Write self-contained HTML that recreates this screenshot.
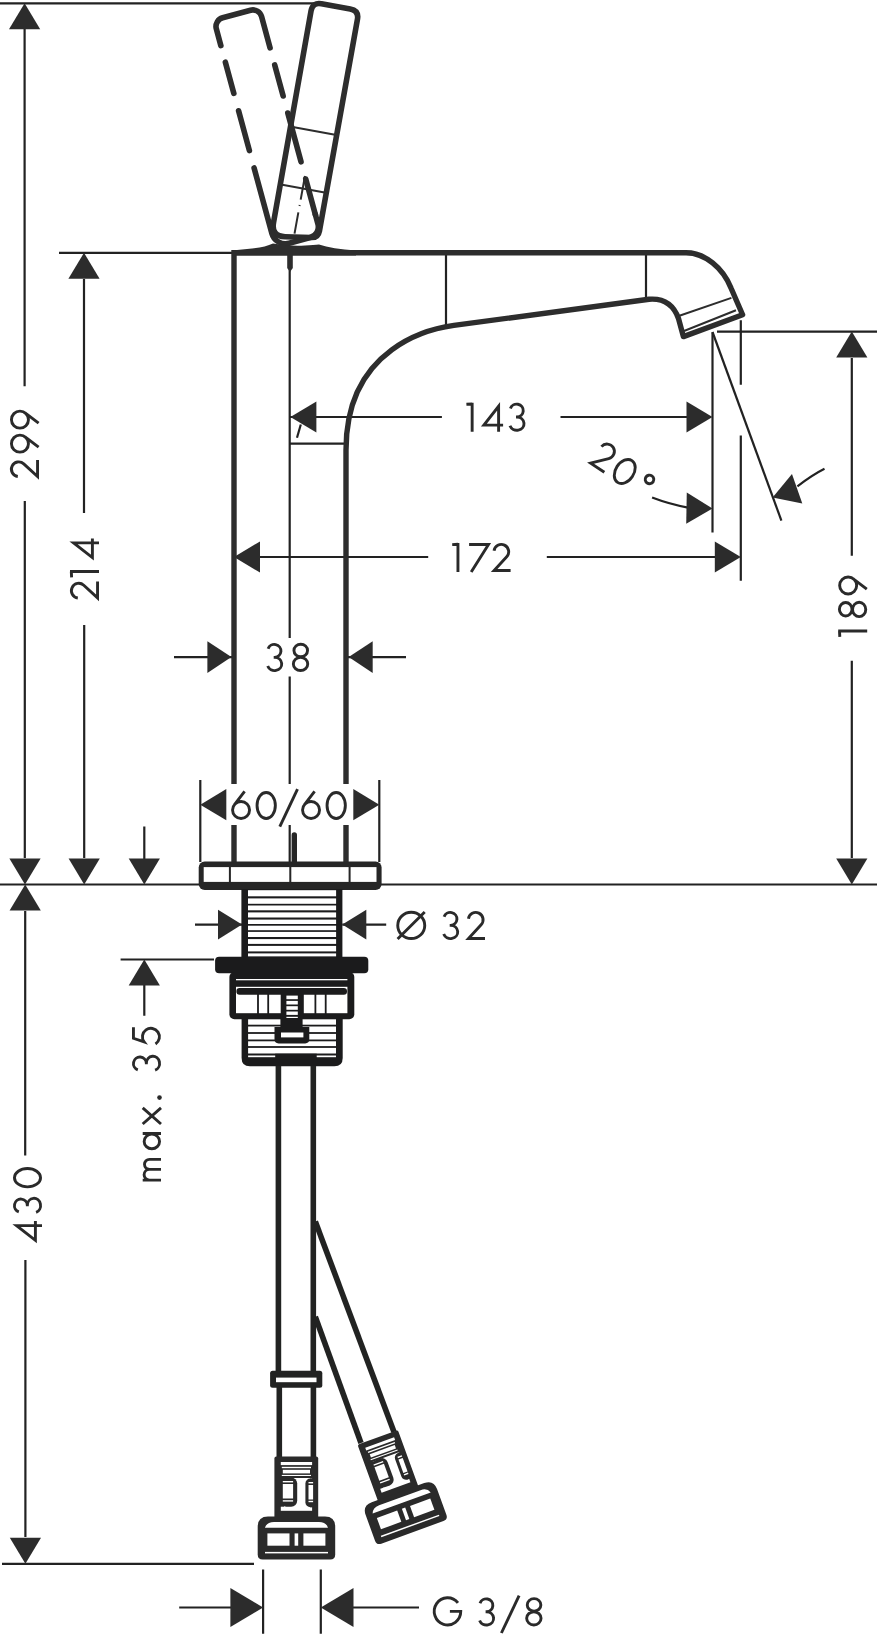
<!DOCTYPE html>
<html><head><meta charset="utf-8"><style>
html,body{margin:0;padding:0;background:#fff;}
svg{display:block;}
text{font-family:"Liberation Sans",sans-serif;fill:#2a2a2a;}
</style></head><body>
<svg width="877" height="1637" viewBox="0 0 877 1637">
<defs>
<path id="ar" d="M0 0 L-26 -15.6 L-26 15.6 Z"/>
</defs>
<!-- ============ DIMENSION LINES ============ -->
<g fill="none" stroke="#222" stroke-width="2.2" id="dims">
<path d="M0 3.3 H314"/>
<path d="M59 252.8 H232"/>
<path d="M0 884.5 H200 M380 884.5 H877"/>
<path d="M2 1563.8 H254"/>
<path d="M24.6 29 V386.3 M24.8 501.1 V858"/>
<path d="M25.2 911 V1155.4 M25.4 1260.1 V1537"/>
<path d="M84 279 V513 M84.2 624.9 V858"/>
<path d="M717 331.6 H877 M851.8 358 V555.8 M851.8 660.7 V858"/>
<path d="M446 253 V326 M646 253 V299"/>
<path d="M289.7 268 V638 M289.7 676.5 V784 M289.7 825 V884"/>
<path d="M200.3 780 V862 M379.3 780 V862"/>
<path d="M290 443.7 H346"/>
<path d="M290 417 H441.9 M560.5 417 H690"/>
<path d="M234 557 H428.2 M546.8 557 H720"/>
<path d="M174 657.2 H234 M346 657.2 H406"/>
<path d="M712.5 332.3 V532.5"/>
<path d="M740.8 320.2 V384.8 M740.8 435.6 V580.8"/>
<path d="M712.5 332 L781.4 520.6"/>
<path d="M824.5 468.7 Q812 475 797.4 486.3"/>
<path d="M652.1 497.5 Q669 504 688 507.6"/>
<path d="M297 437.8 L300.8 424.5"/>
<path d="M195 924.6 H242 M342.3 924.6 H386.2"/>
<path d="M120.6 959.5 H214"/>
<path d="M144.3 826.6 V860 M144.3 985 V1015.7"/>
<path d="M263.1 1569.6 V1633.8 M320.8 1569.6 V1633.8"/>
<path d="M179.2 1607.5 H240 M340 1607.5 H419"/>
</g>
<g fill="#2c2c2c" stroke="none" id="arrows">
<use href="#ar" transform="translate(24.6,3.3) rotate(-90)"/>
<use href="#ar" transform="translate(25,884.5) rotate(90)"/>
<use href="#ar" transform="translate(25.2,884.5) rotate(-90)"/>
<use href="#ar" transform="translate(25.4,1563.8) rotate(90)"/>
<use href="#ar" transform="translate(84,252.8) rotate(-90)"/>
<use href="#ar" transform="translate(84.2,884.5) rotate(90)"/>
<use href="#ar" transform="translate(851.8,331.6) rotate(-90)"/>
<use href="#ar" transform="translate(851.8,884.5) rotate(90)"/>
<use href="#ar" transform="translate(290.4,417) rotate(180)"/>
<use href="#ar" transform="translate(712.5,417)"/>
<use href="#ar" transform="translate(234,557) rotate(180)"/>
<use href="#ar" transform="translate(740.8,557)"/>
<use href="#ar" transform="translate(231.4,657.1) scale(0.923,1.019)"/>
<use href="#ar" transform="translate(348.7,657.1) rotate(180) scale(0.923,1.019)"/>
<use href="#ar" transform="translate(200.3,804.7) rotate(180)"/>
<use href="#ar" transform="translate(379.3,804.7)"/>
<use href="#ar" transform="translate(712.5,508.5) rotate(1)"/>
<use href="#ar" transform="translate(772.6,497.4) rotate(160.7)"/>
<use href="#ar" transform="translate(242,924.6) scale(0.923,0.955)"/>
<use href="#ar" transform="translate(342.3,924.6) rotate(180) scale(0.923,0.955)"/>
<use href="#ar" transform="translate(144.3,884.5) rotate(90)"/>
<use href="#ar" transform="translate(144.3,959.5) rotate(-90)"/>
<use href="#ar" transform="translate(263.1,1607.5) scale(1.258,1.25)"/>
<use href="#ar" transform="translate(320.8,1607.5) rotate(180) scale(1.258,1.25)"/>
</g>
<!-- ============ FAUCET BODY ============ -->
<g fill="none" stroke="#2d2d2d" stroke-width="5.4" stroke-linejoin="round" id="body">
<path d="M234 250 V784 M234 825 V862"/>
<path d="M346 862 V825 M346 784 V450 C346 346 432.1 328.4 453.9 325.4 L649 299.3 C665 298 674 306 678.5 318.5 L683.4 336.6 L742.6 314.8 L731 288 C723 268 705 252.8 686 252.8 L234 252.8"/>
</g>
<path d="M679.4 315.8 L731.4 297.9 M684 331 L736 310.3" stroke="#2d2d2d" stroke-width="2" fill="none"/>
<g id="handle" fill="none" stroke="#2d2d2d" stroke-width="5.6" stroke-linecap="round" stroke-linejoin="round">
<path d="M321.46 3.68 L350.19 8.89 Q359.05 10.5 357.46 19.36 L319.44 230.91 Q318.2 237.8 311.2 237.56 L285.1 236.68 Q271.1 236.2 273.54 222.41 L311.03 10.93 Q312.6 2.07 321.46 3.68 Z"/>
<g transform="translate(293.8,237.5) rotate(10.3)">
<path d="M-23.6 -108.5 H23.6 M-23.6 -49.8 H23.6" stroke-width="2" stroke-linecap="butt"/>
<path d="M0 -4 V-25.5 M0 -32 V-33 M0 -38.5 V-62.5" stroke-width="2" stroke-linecap="butt"/>
</g>
<g transform="translate(298.2,240.8) rotate(-15.2)">
<path d="M-23.45 -208.6 V-226 A9 9 0 0 1 -14.45 -235 H14.45 A9 9 0 0 1 23.45 -226 V-193.5"/>
<path d="M-23.45 -191.5 V-159.1 M-23.45 -141.1 V-99.8 M-23.45 -81.9 V-14 A14 14 0 0 0 -9.45 0 H12.45 A11 11 0 0 0 23.45 -11 V-21"/>
<path d="M23.45 -175.9 V-143.7 M23.45 -126 V-75.5 M23.45 -57.6 V-20.7"/>
</g>
</g>
<path fill="#2d2d2d" d="M232 250.4 L252 248.6 Q265 247.2 273 243.5 Q290 246.5 305 245.5 Q314 245 319 244.5 Q332 248.8 356 250.6 L356 255.6 L232 255.6 Z"/>
<path d="M290 254 V268" stroke="#2d2d2d" stroke-width="5.6"/>
<path d="M287.2 268 L290 272 L292.8 268 Z" fill="#2d2d2d"/>
<!-- ============ BASE PLATE ============ -->
<rect x="198.7" y="861.4" width="182.9" height="28.5" rx="6" fill="#262626"/>
<rect x="203.7" y="867.1" width="172.8" height="14.8" fill="#fff"/>
<path d="M229.9 867 V882 M290.3 867 V882 M349.6 867 V882" stroke="#262626" stroke-width="2"/>
<path d="M294.3 835 V862" stroke="#262626" stroke-width="5.4" stroke-linecap="round"/>
<!-- ============ THREAD ============ -->
<rect x="241.4" y="889" width="101" height="68.5" fill="#1b1b1c"/>
<g fill="#fff">
<rect x="248" y="890.2" width="88.1" height="6.1"/>
<rect x="248" y="898.4" width="88.1" height="5.4"/>
<rect x="248" y="905.5" width="88.1" height="4.8"/>
<rect x="248" y="912.4" width="88.1" height="5.1"/>
<rect x="248" y="919.6" width="88.1" height="4.4"/>
<rect x="248" y="925.7" width="88.1" height="4.5"/>
<rect x="248" y="931.9" width="88.1" height="5.1"/>
<rect x="248" y="939.1" width="88.1" height="4.8"/>
<rect x="248" y="945.9" width="88.1" height="5.5"/>
<rect x="248" y="953.4" width="88.1" height="3.1"/>
</g>
<!-- washer -->
<rect x="215.1" y="956.7" width="153.2" height="16.6" rx="4" fill="#1b1b1c"/>
<g id="nut">
<rect x="229.4" y="972" width="124.9" height="47.3" rx="5" fill="#1b1b1c"/>
<rect x="236" y="979" width="111.4" height="1.3" fill="#fff"/>
<rect x="236" y="986.8" width="111.4" height="26.4" fill="#fff"/>
<rect x="236.4" y="987.9" width="110.6" height="6.8" rx="3.2" fill="#1b1b1c"/>
<path d="M258 994 V1014 M268.2 994 V1014 M315.4 994 V1014 M325.7 994 V1014" stroke="#1b1b1c" stroke-width="1.8"/>
<rect x="280.7" y="994" width="23.1" height="26" fill="#1b1b1c"/>
<g fill="#fff"><rect x="286.4" y="995.6" width="11.4" height="3.6"/><rect x="286.4" y="1000.9" width="11.4" height="3.6"/><rect x="286.4" y="1006.2" width="11.4" height="3.6"/><rect x="286.4" y="1011.5" width="11.4" height="3.4"/><rect x="286.4" y="1016.8" width="11.4" height="2.8"/></g>
</g>
<g id="lowerbody">
<path fill="#1b1b1c" d="M241.6 1018 H342.7 V1058 Q342.7 1066.3 334.4 1066.3 H249.9 Q241.6 1066.3 241.6 1058 Z"/>
<g fill="#fff">
<rect x="248.1" y="1019.3" width="87.9" height="5.4"/>
<rect x="248.1" y="1026.5" width="87.9" height="5.6"/>
<rect x="248.1" y="1033.9" width="87.9" height="5.6"/>
<rect x="248.1" y="1041.3" width="87.9" height="4.8"/>
<rect x="248.1" y="1047.9" width="87.9" height="5.6"/>
<rect x="248.1" y="1055.5" width="87.9" height="1.7"/>
</g>
<path fill="#1b1b1c" d="M280.4 1019 H302.6 V1027 H309.3 V1039.3 Q309.3 1043.4 305.2 1043.4 H278.6 Q274.5 1043.4 274.5 1039.3 V1027 H280.4 Z"/>
<rect x="281" y="1032.5" width="22.4" height="4.9" fill="#fff"/>
<rect x="275.2" y="1053.7" width="41.5" height="6" fill="#1b1b1c"/>
</g>
<g fill="none" stroke="#222322" stroke-width="5.6">
<path d="M278.4 1066 V1373 M313.3 1066 V1373"/>
<path d="M279.3 1386 V1458 M313.4 1386 V1458"/>
<path d="M315.3 1221.5 L394 1432"/>
<path d="M315.3 1316.8 L361 1443"/>
</g>
<rect x="270.1" y="1370.8" width="52.2" height="17" rx="2.5" fill="#222322"/>
<rect x="276" y="1377.6" width="40.5" height="4.6" fill="#fff"/>
<g id="conn">
<rect x="274.4" y="1456.4" width="43.8" height="65.6" rx="2" fill="#2a2a2a"/>
<g fill="#fff">
<rect x="280.8" y="1462" width="31.3" height="3.1"/>
<rect x="281.8" y="1466.8" width="29.2" height="1.4"/>
<rect x="282.8" y="1469.8" width="27.2" height="3.6"/>
<rect x="281.8" y="1474.9" width="29.2" height="1.1"/>
<rect x="280.8" y="1478" width="31.3" height="32.8"/>
</g>
<rect x="280.3" y="1477.5" width="16.9" height="29.2" rx="6" fill="#2a2a2a"/>
<rect x="278" y="1477.5" width="6" height="29.2" fill="#2a2a2a"/>
<rect x="305.4" y="1478.5" width="11.3" height="28.7" rx="5" fill="#2a2a2a"/>
<rect x="310" y="1478.5" width="5" height="28.7" fill="#2a2a2a"/>
<g fill="#fff">
<rect x="282.8" y="1481" width="10.3" height="1.4"/>
<rect x="282.8" y="1484" width="10.3" height="14.5"/>
<rect x="282.8" y="1500.2" width="10.3" height="1.4"/>
<rect x="308.5" y="1482" width="4.6" height="1.4"/>
<rect x="308.5" y="1485" width="4.6" height="14.5"/>
<rect x="308.5" y="1500.8" width="4.6" height="1.4"/>
</g>
<path fill="#2a2a2a" d="M268 1516.5 H325 Q335.2 1516.5 335.2 1526.7 V1554.6 Q335.2 1559.6 330.2 1559.6 H262.7 Q257.7 1559.6 257.7 1554.6 V1526.7 Q257.7 1516.5 268 1516.5 Z"/>
<g fill="#fff">
<path d="M264.9 1527.7 Q267 1522 274 1522 H319 Q326 1522 328 1527.7 Z"/>
<rect x="267.4" y="1533.4" width="22.1" height="12.3"/>
<rect x="303.4" y="1533.4" width="22" height="12.3"/>
<rect x="294.6" y="1533.4" width="3.6" height="12.3"/>
<rect x="265" y="1551.9" width="63" height="1.5"/>
</g>
</g>
<use href="#conn" transform="translate(377.65,1437.35) rotate(-20) scale(0.98) translate(-296.3,-1456.4)"/>


<g id="glyphs" fill="none" stroke="#2a2a2a" stroke-width="2.9" stroke-linejoin="miter" stroke-miterlimit="6"><g transform="translate(466.2,431.7)"><path transform="translate(0.0)" d="M0.2 -27.4 L5.95 -27.7 M5.95 -29 V0"/><path transform="translate(16.4)" d="M20.5 -6.6 H1.3 L16.0 -25.4 V0"/><path transform="translate(42.2)" d="M2.0 -23.2 A6.6 6.45 0 1 1 8.6 -14.65 H7.6 M8.6 -14.65 A7.2 6.6 0 1 1 1.6 -5.9"/></g><g transform="translate(452.0,572.0)"><path transform="translate(0.0)" d="M0.2 -27.4 L5.95 -27.7 M5.95 -29 V0"/><path transform="translate(17.1)" d="M0 -27.55 H19.4 L2.1 0"/><path transform="translate(40.3)" d="M1.75 -21.2 A7.35 7.35 0 1 1 14.42 -15.24 L1.8 -1.45 H18.3"/></g><g transform="translate(266.1,672.0)"><path transform="translate(0.0)" d="M2.0 -23.2 A6.6 6.45 0 1 1 8.6 -14.65 H7.6 M8.6 -14.65 A7.2 6.6 0 1 1 1.6 -5.9"/><path transform="translate(25.8)" d="M15.65 -21.50 A6.8 6.3 0 1 1 2.05 -21.50 A6.8 6.3 0 1 1 15.65 -21.50 M15.85 -8.05 A7.2 6.6 0 1 1 1.45 -8.05 A7.2 6.6 0 1 1 15.85 -8.05 "/></g><g transform="translate(230.8,820.0)"><path transform="translate(0.0)" d="M13.8 -28.6 L3.50 -15.11 M18.75 -9.95 A8.5 8.5 0 1 1 1.75 -9.95 A8.5 8.5 0 1 1 18.75 -9.95 "/><path transform="translate(24.8)" d="M19.75 -14.50 A9.15 13.05 0 1 1 1.45 -14.50 A9.15 13.05 0 1 1 19.75 -14.50 "/><path transform="translate(48.1)" d="M0.9 6.6 L18.6 -30.8"/><path transform="translate(70.0)" d="M13.8 -28.6 L3.50 -15.11 M18.75 -9.95 A8.5 8.5 0 1 1 1.75 -9.95 A8.5 8.5 0 1 1 18.75 -9.95 "/><path transform="translate(94.8)" d="M19.75 -14.50 A9.15 13.05 0 1 1 1.45 -14.50 A9.15 13.05 0 1 1 19.75 -14.50 "/></g><g transform="translate(432.8,1626.4)"><path transform="translate(0.0)" d="M25.14 -23.42 A13.25 13.6 0 1 0 27.95 -15.05 H17.1"/><path transform="translate(45.2)" d="M2.0 -23.2 A6.6 6.45 0 1 1 8.6 -14.65 H7.6 M8.6 -14.65 A7.2 6.6 0 1 1 1.6 -5.9"/><path transform="translate(67.7)" d="M0.9 6.6 L18.6 -30.8"/><path transform="translate(92.4)" d="M15.65 -21.50 A6.8 6.3 0 1 1 2.05 -21.50 A6.8 6.3 0 1 1 15.65 -21.50 M15.85 -8.05 A7.2 6.6 0 1 1 1.45 -8.05 A7.2 6.6 0 1 1 15.85 -8.05 "/></g><g transform="translate(396.3,940.0)"><path transform="translate(0.0)" d="M28.45 -14.60 A13.5 13.15 0 1 1 1.45 -14.60 A13.5 13.15 0 1 1 28.45 -14.60 M1.3 -1.0 L28.4 -28.0"/><path transform="translate(45.8)" d="M2.0 -23.2 A6.6 6.45 0 1 1 8.6 -14.65 H7.6 M8.6 -14.65 A7.2 6.6 0 1 1 1.6 -5.9"/><path transform="translate(70.4)" d="M1.75 -21.2 A7.35 7.35 0 1 1 14.42 -15.24 L1.8 -1.45 H18.3"/></g><g transform="translate(39.0,478.3) rotate(-90)"><path transform="translate(0.0)" d="M1.75 -21.2 A7.35 7.35 0 1 1 14.42 -15.24 L1.8 -1.45 H18.3"/><path transform="translate(24.9)" d="M6.2 -0.4 L16.50 -13.89 M18.25 -19.05 A8.5 8.5 0 1 1 1.25 -19.05 A8.5 8.5 0 1 1 18.25 -19.05 "/><path transform="translate(48.9)" d="M6.2 -0.4 L16.50 -13.89 M18.25 -19.05 A8.5 8.5 0 1 1 1.25 -19.05 A8.5 8.5 0 1 1 18.25 -19.05 "/></g><g transform="translate(99.0,599.7) rotate(-90)"><path transform="translate(0.0)" d="M1.75 -21.2 A7.35 7.35 0 1 1 14.42 -15.24 L1.8 -1.45 H18.3"/><path transform="translate(22.2)" d="M0.2 -27.4 L5.95 -27.7 M5.95 -29 V0"/><path transform="translate(40.8)" d="M20.5 -6.6 H1.3 L16.0 -25.4 V0"/></g><g transform="translate(42.0,1241.6) rotate(-90)"><path transform="translate(0.0)" d="M20.5 -6.6 H1.3 L16.0 -25.4 V0"/><path transform="translate(27.7)" d="M2.0 -23.2 A6.6 6.45 0 1 1 8.6 -14.65 H7.6 M8.6 -14.65 A7.2 6.6 0 1 1 1.6 -5.9"/><path transform="translate(53.3)" d="M19.75 -14.50 A9.15 13.05 0 1 1 1.45 -14.50 A9.15 13.05 0 1 1 19.75 -14.50 "/></g><g transform="translate(867.2,637.0) rotate(-90)"><path transform="translate(0.0)" d="M0.2 -27.4 L5.95 -27.7 M5.95 -29 V0"/><path transform="translate(18.9)" d="M15.65 -21.50 A6.8 6.3 0 1 1 2.05 -21.50 A6.8 6.3 0 1 1 15.65 -21.50 M15.85 -8.05 A7.2 6.6 0 1 1 1.45 -8.05 A7.2 6.6 0 1 1 15.85 -8.05 "/><path transform="translate(41.7)" d="M6.2 -0.4 L16.50 -13.89 M18.25 -19.05 A8.5 8.5 0 1 1 1.25 -19.05 A8.5 8.5 0 1 1 18.25 -19.05 "/></g><g transform="translate(161.0,1181.6) rotate(-90)"><path transform="translate(0.0)" d="M1.45 0 V-18.3 M1.45 -11.5 A5.4 5.4 0 0 1 12.25 -11.5 V0 M12.25 -11.5 A5 5 0 0 1 22.25 -11.5 V0"/><path transform="translate(31.4)" d="M16.05 -9.15 A7.3 7.7 0 1 1 1.45 -9.15 A7.3 7.7 0 1 1 16.05 -9.15 M16.65 -18.3 V0"/><path transform="translate(56.8)" d="M0.8 0 L16.9 -18.3 M0.8 -18.3 L16.9 0"/><path transform="translate(109.8)" d="M2.0 -23.2 A6.6 6.45 0 1 1 8.6 -14.65 H7.6 M8.6 -14.65 A7.2 6.6 0 1 1 1.6 -5.9"/><path transform="translate(135.4)" d="M19 -27.55 H7.9 L4.3 -16.9 A8.5 8.5 0 1 1 2.2 -5.5"/></g><circle cx="159.5" cy="1097.6" r="2.3" fill="#2a2a2a" stroke="none"/><g transform="translate(588.3,463.3) rotate(33.5)"><path transform="translate(0)" d="M1.75 -21.2 A7.35 7.35 0 1 1 14.42 -15.24 L1.8 -1.45 H18.3"/><path transform="translate(24.3,1.2)" d="M19.75 -14.50 A9.15 13.05 0 1 1 1.45 -14.50 A9.15 13.05 0 1 1 19.75 -14.50 "/><path transform="translate(54.2,-1.0)" d="M10.05 -19.30 A4.3 4.3 0 1 1 1.45 -19.30 A4.3 4.3 0 1 1 10.05 -19.30 "/></g></g>
</svg>
</body></html>
